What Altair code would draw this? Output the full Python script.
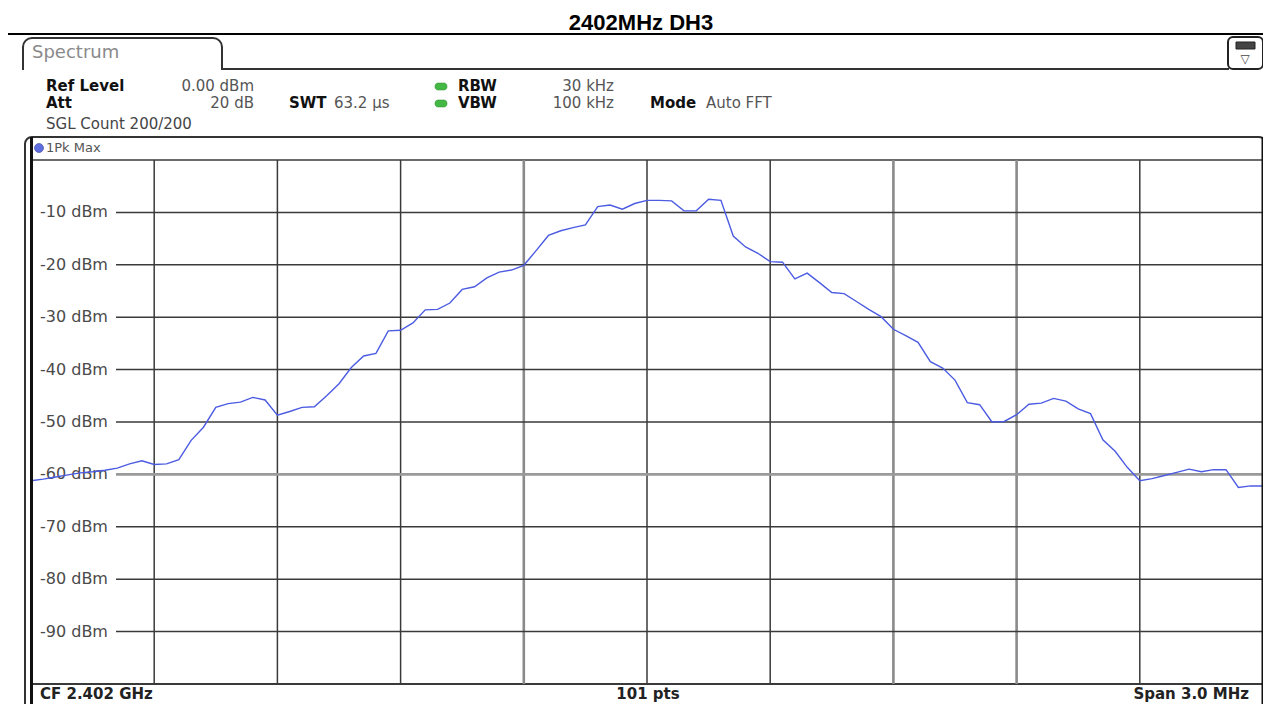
import altair as alt
import numpy as np
import pandas as pd

# ---------------- data ----------------
center_mhz = 2402.0
span_mhz = 3.0
n_pts = 101

level_dbm = [
    -61.2, -60.9, -60.5, -60.1, -59.7, -59.5, -59.2, -58.8, -58.0, -57.4,
    -58.1, -58.0, -57.2, -53.5, -51.0, -47.2, -46.5, -46.2, -45.3, -45.8,
    -48.7, -48.0, -47.2, -47.1, -45.0, -42.7, -39.6, -37.4, -36.9, -32.6,
    -32.5, -31.1, -28.6, -28.5, -27.3, -24.7, -24.2, -22.5, -21.4, -21.0,
    -20.1, -17.3, -14.4, -13.5, -12.9, -12.4, -8.9, -8.6, -9.4, -8.3,
    -7.7, -7.7, -7.8, -9.7, -9.7, -7.5, -7.7, -14.5, -16.6, -17.8,
    -19.4, -19.5, -22.7, -21.6, -23.4, -25.3, -25.5, -27.0, -28.5, -29.9,
    -32.3, -33.5, -34.8, -38.5, -39.7, -42.0, -46.3, -46.7, -50.0, -49.9,
    -48.6, -46.6, -46.4, -45.5, -46.0, -47.5, -48.4, -53.4, -55.6, -58.7,
    -61.2, -60.8, -60.2, -59.6, -59.0, -59.5, -59.1, -59.1, -62.5, -62.2,
    -62.2,
]

grid_db = [-10, -20, -30, -40, -50, -60, -70, -80, -90]
grid_labels = ["-10 dBm", "-20 dBm", "-30 dBm", "-40 dBm", "-50 dBm",
               "-60 dBm", "-70 dBm", "-80 dBm", "-90 dBm"]
div_index = [1, 2, 3, 4, 5, 6, 7, 8, 9]

title_text = "2402MHz DH3"
freq = np.linspace(center_mhz - span_mhz / 2, center_mhz + span_mhz / 2, n_pts)
trace = pd.DataFrame({"f": freq, "dbm": level_dbm})
hgrid = pd.DataFrame({"v": grid_db, "lab": grid_labels})
vgrid = pd.DataFrame({"k": div_index,
                      "f": [center_mhz + (k - 5) * span_mhz / 10 for k in div_index]})

# ---------------- layout ----------------
W, H = 1232, 524          # grid area
OX, OY = 31, 160          # grid origin in page pixels
xs = alt.Scale(domain=[center_mhz - span_mhz / 2, center_mhz + span_mhz / 2], nice=False, zero=False)
ys = alt.Scale(domain=[-100, 0], nice=False, zero=False)
one = alt.Data(values=[{"k": 0}])
GRID = "#3a3a3a"
FONT = "DejaVu Sans"


def text(s, x, y, size=15, weight="normal", color="#555", align="left", font=FONT):
    return alt.Chart(one).mark_text(
        text=s, align=align, baseline="middle", fontSize=size,
        fontWeight=weight, color=color, font=font
    ).encode(x=alt.value(x - OX), y=alt.value(y - OY))


def hline(x1, x2, y, color=GRID, w=1.5):
    return alt.Chart(one).mark_rule(color=color, strokeWidth=w).encode(
        x=alt.value(x1 - OX), x2=alt.value(x2 - OX), y=alt.value(y - OY))


def vline(x, y1, y2, color=GRID, w=1.5):
    return alt.Chart(one).mark_rule(color=color, strokeWidth=w).encode(
        x=alt.value(x - OX), y=alt.value(y1 - OY), y2=alt.value(y2 - OY))


def box(x1, y1, x2, y2, **kw):
    return alt.Chart(one).mark_rect(**kw).encode(
        x=alt.value(x1 - OX), x2=alt.value(x2 - OX),
        y=alt.value(y1 - OY), y2=alt.value(y2 - OY))


layers = []

# header
layers.append(text(title_text, 641, 23, size=22, weight="bold", color="#000",
                   align="center", font="Liberation Sans"))
layers.append(hline(0, 1271, 34, color="#000", w=2))

# spectrum tab
layers.append(box(23, 38, 222, 80, fill="white", stroke="#333", strokeWidth=2,
                  cornerRadiusTopLeft=9, cornerRadiusTopRight=9))
layers.append(box(20, 70, 225, 84, fill="white", strokeWidth=0))
layers.append(hline(221, 1229, 69, color="#333", w=2))
layers.append(text("Spectrum", 32, 53, size=18, color="#8a8a8a"))

# icon top right
layers.append(box(1228, 37, 1263, 69, fill="white", stroke="#222", strokeWidth=2, cornerRadius=5))
layers.append(box(1236, 42, 1255, 49, fill="#444", stroke="#222", strokeWidth=1))
layers.append(text("▽", 1245, 59, size=12, color="#444", align="center"))

# info block
layers.append(text("Ref Level", 46, 86, weight="bold", color="#111"))
layers.append(text("0.00 dBm", 254, 86, align="right"))
layers.append(text("Att", 46, 103, weight="bold", color="#111"))
layers.append(text("20 dB", 254, 103, align="right"))
layers.append(text("SWT", 289, 103, weight="bold", color="#111"))
layers.append(text("63.2 µs", 334, 103))
layers.append(box(435, 83, 447, 90, fill="#44b844", stroke="#2a8a2a", strokeWidth=0.5, cornerRadius=3))
layers.append(box(435, 100, 447, 107, fill="#44b844", stroke="#2a8a2a", strokeWidth=0.5, cornerRadius=3))
layers.append(text("RBW", 458, 86, weight="bold", color="#111"))
layers.append(text("30 kHz", 614, 86, align="right"))
layers.append(text("VBW", 458, 103, weight="bold", color="#111"))
layers.append(text("100 kHz", 614, 103, align="right"))
layers.append(text("Mode", 650, 103, weight="bold", color="#111"))
layers.append(text("Auto FFT", 706, 103))
layers.append(text("SGL Count 200/200", 46, 124, color="#444"))

# diagram frame
layers.append(box(25, 137, 1266, 720, fill="white", stroke="#333", strokeWidth=2, cornerRadius=7))
layers.append(alt.Chart(one).mark_point(filled=True, shape="circle", size=80, color="#1c30d8",
                                        stroke="#0b1780", strokeWidth=0.8).encode(
    x=alt.value(39 - OX), y=alt.value(148 - OY)))
layers.append(text("1Pk Max", 46, 148, size=13, color="#555"))

# grid
layers.append(hline(OX, OX + W, OY, w=1.5))
layers.append(hline(OX, OX + W, OY + H, w=1.8))
layers.append(
    alt.Chart(vgrid).mark_rule().encode(
        x=alt.X("f:Q", scale=xs, axis=None),
        y=alt.value(0), y2=alt.value(H),
        color=alt.condition("datum.k == 4 || datum.k == 7 || datum.k == 8",
                            alt.value("#8a8a8a"), alt.value(GRID)),
        strokeWidth=alt.condition("datum.k == 4 || datum.k == 7 || datum.k == 8",
                                  alt.value(2.6), alt.value(1.5)),
    )
)
layers.append(
    alt.Chart(hgrid).mark_rule().encode(
        y=alt.Y("v:Q", scale=ys, axis=None),
        x=alt.value(116 - OX), x2=alt.value(W),
        color=alt.condition("datum.v == -60", alt.value("#9a9a9a"), alt.value(GRID)),
        strokeWidth=alt.condition("datum.v == -60", alt.value(2.6), alt.value(1.5)),
    )
)
layers.append(
    alt.Chart(hgrid).mark_text(align="left", baseline="middle", fontSize=16,
                               color="#4a4a4a", font=FONT).encode(
        y=alt.Y("v:Q", scale=ys, axis=None),
        x=alt.value(40 - OX),
        text="lab:N",
    )
)

# trace
layers.append(
    alt.Chart(trace).mark_line(color="#4c5ce2", strokeWidth=1.4).encode(
        x=alt.X("f:Q", scale=xs, axis=None),
        y=alt.Y("dbm:Q", scale=ys, axis=None),
    )
)

# grid borders
layers.append(vline(31.5, 137, 704, color="#111", w=3))
layers.append(vline(1263, 137, 704, color="#111", w=3))

# footer
layers.append(text("CF 2.402 GHz", 40, 694, size=15, weight="bold", color="#222"))
layers.append(text("101 pts", 648, 694, size=15, weight="bold", color="#222", align="center"))
layers.append(text("Span 3.0 MHz", 1249, 694, size=15, weight="bold", color="#222", align="right"))

chart = alt.layer(*layers).properties(
    width=W, height=H,
    padding={"left": OX - 8, "top": OY - 8, "right": 0, "bottom": 20},
    autosize=alt.AutoSizeParams(type="none"),
    background="white",
).configure_view(stroke=None)

chart.save("out.html", embed_options={"renderer": "svg", "actions": False})
